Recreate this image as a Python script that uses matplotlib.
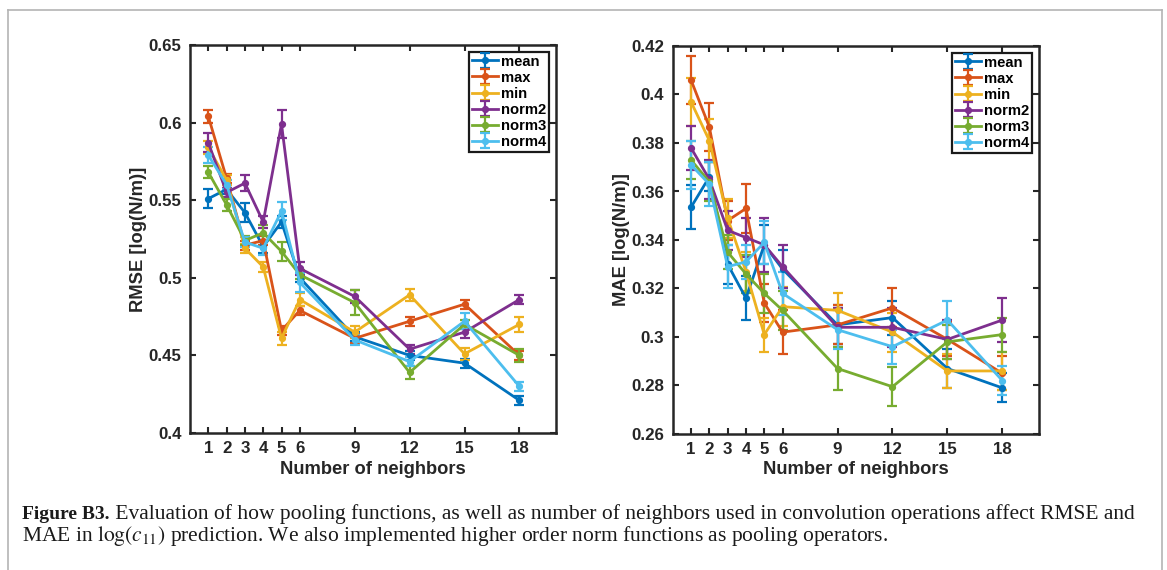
import matplotlib
matplotlib.use("Agg")
import matplotlib.pyplot as plt
from matplotlib.lines import Line2D

# ---- data -------------------------------------------------------------
neighbors = [1, 2, 3, 4, 5, 6, 9, 12, 15, 18]
pooling = ["mean", "max", "min", "norm2", "norm3", "norm4"]

rmse_mean = [0.551, 0.557, 0.542, 0.520, 0.536, 0.500, 0.462, 0.450, 0.445, 0.421]
rmse_max = [0.604, 0.564, 0.521, 0.524, 0.466, 0.479, 0.461, 0.472, 0.483, 0.450]
rmse_min = [0.584, 0.563, 0.519, 0.507, 0.461, 0.486, 0.465, 0.489, 0.451, 0.470]
rmse_norm2 = [0.587, 0.555, 0.561, 0.536, 0.599, 0.506, 0.488, 0.454, 0.465, 0.486]
rmse_norm3 = [0.568, 0.547, 0.524, 0.529, 0.517, 0.502, 0.484, 0.439, 0.470, 0.450]
rmse_norm4 = [0.579, 0.560, 0.523, 0.519, 0.543, 0.497, 0.460, 0.446, 0.472, 0.430]

rmse_mean_err = [0.006, 0.003, 0.006, 0.004, 0.004, 0.003, 0.003, 0.003, 0.003, 0.003]
rmse_max_err = [0.004, 0.003, 0.003, 0.003, 0.003, 0.003, 0.003, 0.003, 0.003, 0.003]
rmse_min_err = [0.004, 0.003, 0.003, 0.003, 0.004, 0.004, 0.004, 0.004, 0.004, 0.005]
rmse_norm2_err = [0.006, 0.003, 0.005, 0.004, 0.009, 0.004, 0.004, 0.003, 0.004, 0.003]
rmse_norm3_err = [0.004, 0.004, 0.003, 0.005, 0.006, 0.003, 0.008, 0.004, 0.003, 0.004]
rmse_norm4_err = [0.005, 0.003, 0.003, 0.004, 0.006, 0.006, 0.003, 0.003, 0.005, 0.003]

mae_mean = [0.3535, 0.366, 0.330, 0.316, 0.338, 0.328, 0.305, 0.308, 0.287, 0.279]
mae_max = [0.406, 0.3866, 0.348, 0.353, 0.314, 0.302, 0.305, 0.312, 0.299, 0.285]
mae_min = [0.397, 0.381, 0.349, 0.327, 0.301, 0.3125, 0.311, 0.302, 0.286, 0.286]
mae_norm2 = [0.378, 0.365, 0.344, 0.341, 0.338, 0.329, 0.304, 0.304, 0.299, 0.307]
mae_norm3 = [0.373, 0.364, 0.335, 0.326, 0.318, 0.311, 0.287, 0.2795, 0.298, 0.301]
mae_norm4 = [0.371, 0.363, 0.329, 0.331, 0.339, 0.318, 0.303, 0.296, 0.307, 0.282]

mae_mean_err = [0.009, 0.006, 0.008, 0.009, 0.008, 0.008, 0.008, 0.007, 0.008, 0.006]
mae_max_err = [0.010, 0.010, 0.008, 0.010, 0.008, 0.009, 0.008, 0.008, 0.007, 0.007]
mae_min_err = [0.010, 0.009, 0.008, 0.008, 0.007, 0.008, 0.007, 0.008, 0.007, 0.008]
mae_norm2_err = [0.009, 0.008, 0.008, 0.008, 0.011, 0.009, 0.008, 0.008, 0.008, 0.009]
mae_norm3_err = [0.008, 0.008, 0.007, 0.008, 0.008, 0.008, 0.009, 0.008, 0.007, 0.007]
mae_norm4_err = [0.010, 0.009, 0.009, 0.007, 0.009, 0.009, 0.008, 0.007, 0.008, 0.006]

rmse_ticks = [0.4, 0.45, 0.5, 0.55, 0.6, 0.65]
rmse_ticklabels = ["0.4", "0.45", "0.5", "0.55", "0.6", "0.65"]
mae_ticks = [0.26, 0.28, 0.30, 0.32, 0.34, 0.36, 0.38, 0.40, 0.42]
mae_ticklabels = ["0.26", "0.28", "0.3", "0.32", "0.34", "0.36", "0.38", "0.4", "0.42"]

caption_bold = "Figure B3."
caption_line1 = (" Evaluation of how pooling functions, as well as number of neighbors "
                 "used in convolution operations affect RMSE and")
caption_line2 = (r"MAE in $\log(c_{11})$ prediction. We also implemented higher order "
                 "norm functions as pooling operators.")

colors = ["#0072BD", "#D95319", "#EDB120", "#7E2F8E", "#77AC30", "#4DBEEE"]

rmse_series = [rmse_mean, rmse_max, rmse_min, rmse_norm2, rmse_norm3, rmse_norm4]
rmse_errs = [rmse_mean_err, rmse_max_err, rmse_min_err, rmse_norm2_err,
             rmse_norm3_err, rmse_norm4_err]
mae_series = [mae_mean, mae_max, mae_min, mae_norm2, mae_norm3, mae_norm4]
mae_errs = [mae_mean_err, mae_max_err, mae_min_err, mae_norm2_err,
            mae_norm3_err, mae_norm4_err]

# ---- figure -----------------------------------------------------------
W, H = 1167, 570
fig = plt.figure(figsize=(W / 100, H / 100), dpi=100)
plt.rcParams["mathtext.fontset"] = "stix"

sans = "Liberation Sans"
axis_color = "#262626"


def px_rect(x0, y0, x1, y1):
    return [x0 / W, 1 - y1 / H, (x1 - x0) / W, (y1 - y0) / H]


def panel(rect, series, errs, ylim, yticks, yticklabels, ylabel, ylabel_x):
    ax = fig.add_axes(px_rect(*rect))
    for vals, err, col, name in zip(series, errs, colors, pooling):
        ax.errorbar(neighbors, vals, yerr=err, color=col, lw=2.0,
                    marker="o", ms=4.2, capsize=3.5, capthick=1.6,
                    elinewidth=1.6, label=name)
    ax.set_xlim(0, 20)
    ax.set_ylim(*ylim)
    ax.set_xticks(neighbors)
    ax.set_xticklabels([str(n) for n in neighbors])
    ax.set_yticks(yticks)
    ax.set_yticklabels(yticklabels)
    ax.tick_params(direction="in", length=4.5, width=1.5, top=True, right=True,
                   colors=axis_color, labelsize=12.2, pad=6)
    for lab in ax.get_xticklabels() + ax.get_yticklabels():
        lab.set_fontfamily(sans)
        lab.set_fontweight("bold")
        lab.set_color(axis_color)
    for sp in ax.spines.values():
        sp.set_linewidth(1.8)
        sp.set_color(axis_color)
    ax.set_xlabel("Number of neighbors", fontfamily=sans, fontweight="bold",
                  fontsize=13.2, color=axis_color, labelpad=3)
    ax.set_ylabel(ylabel, fontfamily=sans, fontweight="bold", fontsize=13.2,
                  color=axis_color)
    ax.yaxis.set_label_coords(ylabel_x, 0.5)
    leg = ax.legend(loc="upper right", prop={"family": sans, "weight": "bold",
                                             "size": 10.6},
                    fancybox=False, framealpha=1, edgecolor="#1a1a1a",
                    borderaxespad=0.45, borderpad=0.2, labelspacing=0.14,
                    handlelength=1.75, handletextpad=0.25)
    leg.get_frame().set_linewidth(1.6)
    return ax


panel((190, 45, 556, 433), rmse_series, rmse_errs, (0.4, 0.65), rmse_ticks,
      rmse_ticklabels, "RMSE [log(N/m)]", -0.117)
panel((672.7, 46, 1039, 434), mae_series, mae_errs, (0.26, 0.42), mae_ticks,
      mae_ticklabels, "MAE [log(N/m)]", -0.117)

# outer page frame
frame_col = "#b4b4b4"
for xs, ys in [((8, 8), (10, 575)), ((8, 1162), (10, 10)), ((1162, 1162), (10, 575))]:
    fig.add_artist(Line2D([x / W for x in xs], [1 - y / H for y in ys],
                          transform=fig.transFigure, color=frame_col, lw=1.2))

# caption
serif = "Liberation Serif"
t1 = fig.text(22 / W, 1 - 519 / H, caption_bold, fontfamily=serif,
              fontweight="bold", fontsize=14.0, color="#1a1a1a", va="baseline")
fig.canvas.draw()
bb = t1.get_window_extent()
fig.text(bb.x1 / W, 1 - 519 / H, caption_line1, fontfamily=serif,
         fontsize=15.5, color="#1a1a1a", va="baseline")
fig.text(22 / W, 1 - 541 / H, caption_line2, fontfamily=serif,
         fontsize=15.5, color="#1a1a1a", va="baseline")

fig.savefig("out.png", dpi=100)
